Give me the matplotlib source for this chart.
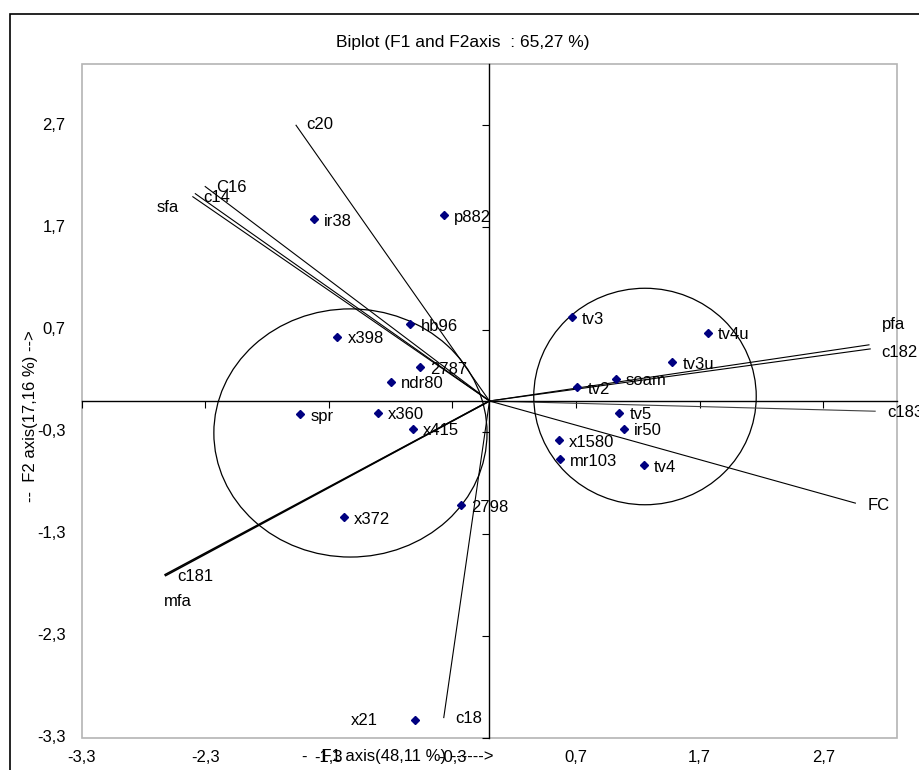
import matplotlib
matplotlib.use("Agg")
import matplotlib.pyplot as plt
from matplotlib.patches import Ellipse, Rectangle
from matplotlib.transforms import blended_transform_factory

plt.rcParams['font.family'] = ['Liberation Sans', 'DejaVu Sans']

# observations (F1, F2)
obs_names = ['ir38', 'p882', 'hb96', 'x398', '2787', 'ndr80', 'spr', 'x360', 'x415',
             '2798', 'x372', 'x21', 'tv3', 'tv4u', 'tv3u', 'soam', 'tv2', 'tv5',
             'ir50', 'x1580', 'mr103', 'tv4']
obs_f1 = [-1.42, -0.37, -0.64, -1.23, -0.56, -0.80, -1.53, -0.90, -0.62,
          -0.23, -1.18, -0.60, 0.665, 1.765, 1.48, 1.02, 0.71, 1.05,
          1.09, 0.56, 0.57, 1.25]
obs_f2 = [1.78, 1.82, 0.75, 0.63, 0.33, 0.19, -0.13, -0.115, -0.27,
          -1.02, -1.14, -3.12, 0.82, 0.67, 0.38, 0.22, 0.135, -0.115,
          -0.27, -0.385, -0.57, -0.63]

# variables (vectors from origin)
var_names = ['c20', 'C16', 'c14', 'sfa', 'pfa', 'c182', 'c183', 'FC', 'c181', 'mfa', 'c18']
var_f1 = [-1.565, -2.30, -2.38, -2.40, 3.07, 3.08, 3.12, 2.96, -2.625, -2.62, -0.37]
var_f2 = [2.70, 2.10, 2.03, 2.00, 0.55, 0.51, -0.10, -1.00, -1.70, -1.71, -3.10]

ticks = [-3.3, -2.3, -1.3, -0.3, 0.7, 1.7, 2.7]
tick_labels = ['-3,3', '-2,3', '-1,3', '-0,3', '0,7', '1,7', '2,7']

# group circles: centre, width, height (data units)
groups = [((-1.125, -0.313), 2.21, 2.43), ((1.258, 0.044), 1.80, 2.12)]

# label offsets in pixels (dx, dy)
var_off = {'c20': (10, 1), 'C16': (11, -1), 'c14': (8, -4), 'sfa': (-36, -11),
           'pfa': (13, 20), 'c182': (11, -4), 'c183': (12, -1), 'FC': (12, -2),
           'c181': (12, -2), 'mfa': (-2, -26), 'c18': (11, -1)}

fs = 12

fig = plt.figure(figsize=(9.2, 7.7), dpi=100)
ax = fig.add_axes([81.6 / 920, 1 - 738 / 770, (897.4 - 81.6) / 920, (738 - 64) / 770])
ax.set_xlim(-3.3, 3.3)
ax.set_ylim(-3.3, 3.3)

# outer border
fig.patches.append(Rectangle((10 / 920, -0.1), 1.2, 1.1 - 14 / 770, transform=fig.transFigure,
                             fill=False, edgecolor='black', linewidth=1.2))

# axis lines through origin
for s in ['top', 'right']:
    ax.spines[s].set_visible(False)
ax.spines['left'].set_position(('data', 0))
ax.spines['bottom'].set_position(('data', 0))
ax.spines['left'].set_linewidth(1.0)
ax.spines['bottom'].set_linewidth(1.0)
ax.set_xticks(ticks)
ax.set_yticks(ticks)
ax.tick_params(direction='out', length=5, width=0.8, labelleft=False, labelbottom=False)
ax.add_patch(Rectangle((0, 0), 1, 1, transform=ax.transAxes, fill=False,
                       edgecolor='#b4b4b4', linewidth=1.2, clip_on=False))

tx = blended_transform_factory(ax.transData, ax.transAxes)
ty = blended_transform_factory(ax.transAxes, ax.transData)
for v, lab in zip(ticks, tick_labels):
    ax.text(v, -19 / 674, lab, transform=tx, ha='center', va='center', fontsize=fs)
    ax.text(-16 / 815.8, v, lab, transform=ty, ha='right', va='center', fontsize=fs)

# variable vectors
for n, x, y in zip(var_names, var_f1, var_f2):
    lw = 1.1 if n in ('c181', 'mfa') else 0.8
    col = '#404040' if n == 'c183' else 'black'
    ax.plot([0, x], [0, y], color=col, linewidth=lw)
    ax.annotate(n, (x, y), xytext=var_off[n], textcoords='offset pixels',
                ha='left', va='center', fontsize=fs)

# group circles
for c, w, h in groups:
    ax.add_patch(Ellipse(c, w, h, fill=False, edgecolor='black', linewidth=0.9))

# observations
ax.plot(obs_f1, obs_f2, linestyle='none', marker='D', markersize=4, color='#000080')
for n, x, y in zip(obs_names, obs_f1, obs_f2):
    if n == 'x21':
        ax.annotate(n, (x, y), xytext=(-38, -1), textcoords='offset pixels',
                    ha='right', va='center', fontsize=fs)
    else:
        ax.annotate(n, (x, y), xytext=(10, -2), textcoords='offset pixels',
                    ha='left', va='center', fontsize=fs)

fig.text(463 / 920, 1 - 42 / 770, 'Biplot (F1 and F2axis  : 65,27 %)', ha='center',
         va='center', fontsize=12.5)
fig.text(398 / 920, 1 - 757 / 770, '-   F1 axis(48,11 %) ------>', ha='center',
         va='center', fontsize=fs)
fig.text(31 / 920, 1 - 416 / 770, '--  F2 axis(17,16 %) -->', ha='center', va='center',
         rotation=90, fontsize=fs)

fig.savefig('out.png', dpi=100)
